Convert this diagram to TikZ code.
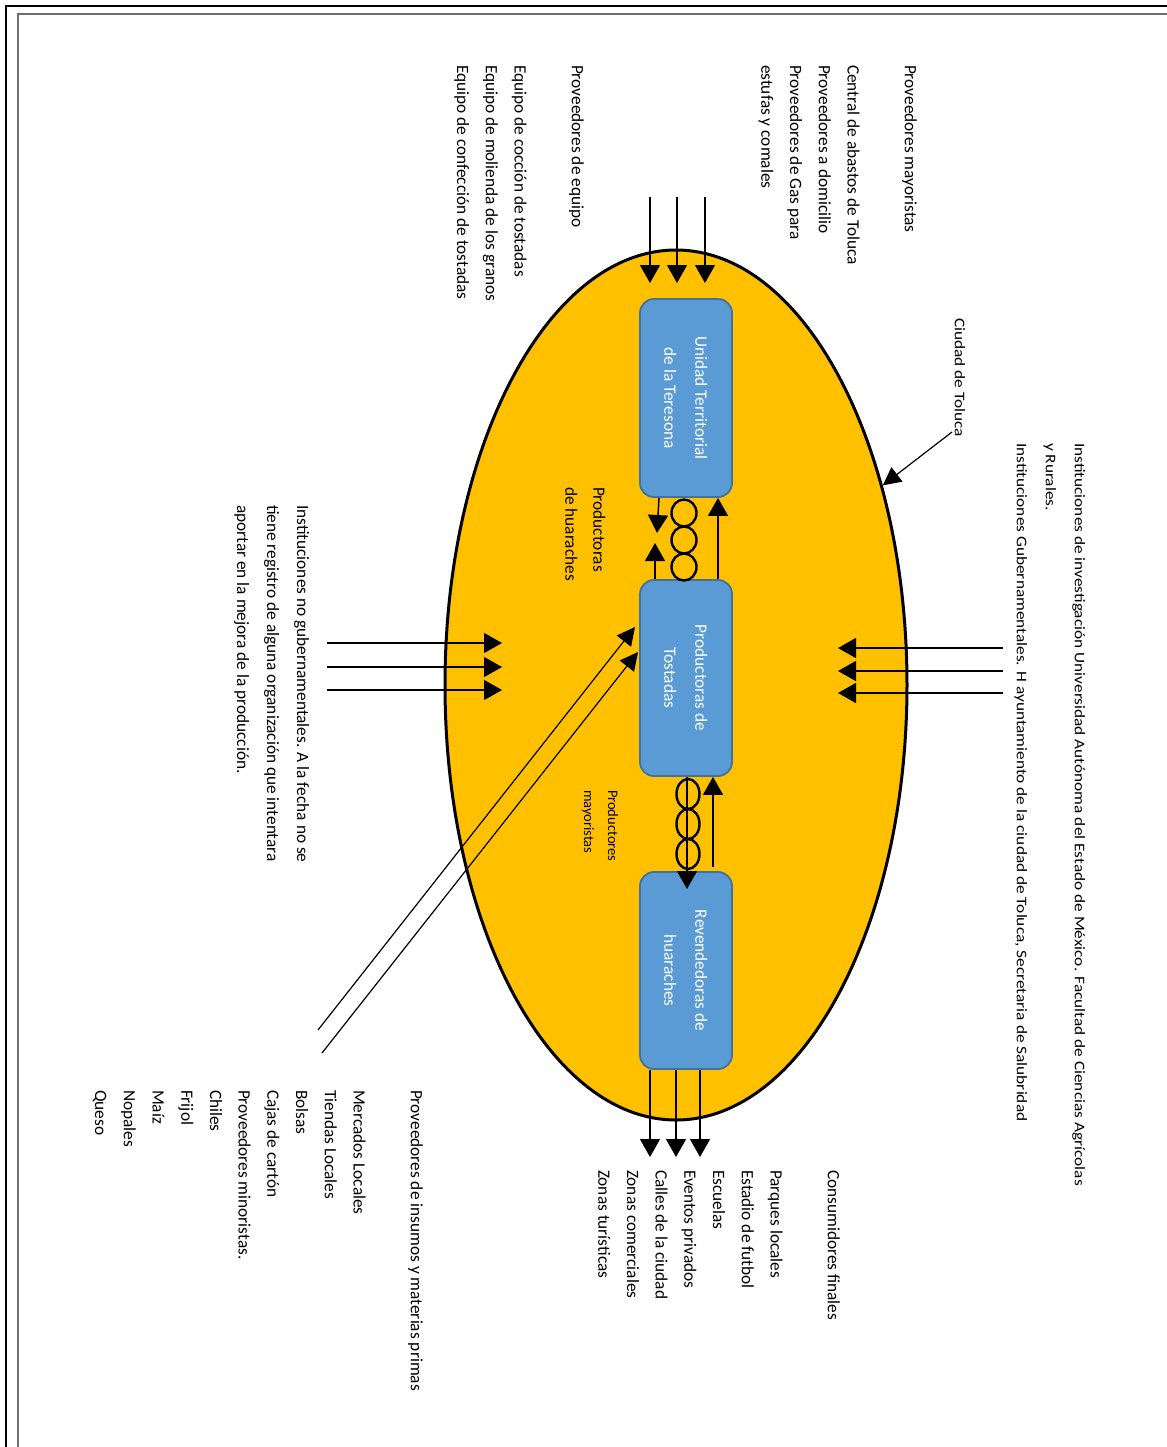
\documentclass[tikz,border=0pt]{standalone}
\usepackage{fontspec}
\setmainfont{Carlito}
\usepackage{graphicx}
\usetikzlibrary{arrows.meta,shapes.geometric}

\definecolor{citygold}{HTML}{FFC000}
\definecolor{boxblue}{HTML}{5B9BD5}
\definecolor{boxedge}{HTML}{41719C}
\definecolor{framegray}{HTML}{6E6E6E}

% text columns read top to bottom
\newcommand{\vlines}[1]{\rotatebox{-90}{\begin{tabular}{@{}l@{}}#1\end{tabular}}}
\newcommand{\vlinesnarrow}[1]{\rotatebox{-90}{\scalebox{1}[0.85]{\begin{tabular}{@{}l@{}}#1\end{tabular}}}}
\newcommand{\boxlines}[1]{\rotatebox{-90}{\begin{tabular}{@{}c@{}}#1\end{tabular}}}

\begin{document}
\begin{tikzpicture}[x=0.5pt,y=-0.5pt,
  lbl/.style={inner sep=0pt, outer sep=0pt, anchor=north east,
    font=\fontsize{8.65}{14.35}\selectfont},
  lblnarrow/.style={lbl, font=\fontsize{8.65}{17}\selectfont},
  lblsmall/.style={lbl, font=\fontsize{7.25}{12}\selectfont},
  unit/.style={draw=boxedge, fill=boxblue, line width=0.9pt, rounded corners=7pt,
    minimum width=46pt, inner sep=0pt, text=white,
    font=\fontsize{8.65}{15.5}\selectfont},
  arr/.style={line width=0.75pt, -{Triangle[length=9pt,width=10pt]}},
  arrthin/.style={line width=0.6pt, -{Triangle[length=9pt,width=9pt]}},
  link/.style={line width=1.2pt}]

\useasboundingbox (0,0) rectangle (1167,1447);

% page frame
\draw[line width=1.25pt] (6,1447) -- (6,6) -- (1167,6);
\draw[framegray, line width=1pt] (18,1447) -- (18,14) -- (1167,14);

% the city
\node[draw, ellipse, fill=citygold, line width=1.5pt, minimum width=231pt,
  minimum height=435pt, inner sep=0pt] (city) at (676,685) {};

% outside actors
\node[lbl] (mayoristas) at (925,65) {\vlines{Proveedores mayoristas\\ \\Central de abastos de Toluca\\Proveedores a domicilio\\Proveedores de Gas para\\estufas y comales}};
\node[lbl] (equipo) at (592,65) {\vlines{Proveedores de equipo\\ \\Equipo de cocción de tostadas\\Equipo de molienda de los granos\\Equipo de confección de tostadas}};
\node[lblnarrow] (toluca) at (975,318) {\vlinesnarrow{Ciudad de Toluca}};
\node[lblnarrow] (instituciones) at (1095,443) {\vlinesnarrow{Instituciones de investigación Universidad Autónoma del Estado de México. Facultad de Ciencias Agrícolas\\y Rurales.\\Instituciones Gubernamentales. H ayuntamiento de la ciudad de Toluca, Secretaria de Salubridad}};
\node[lbl, font=\fontsize{8.65}{15}\selectfont] (ong) at (318,505) {\vlines{Instituciones no gubernamentales. A la fecha no se\\tiene registro de alguna organización que intentara\\aportar en la mejora de la producción.}};
\node[lbl] (insumos) at (431,1090) {\vlines{Proveedores de insumos y materias primas\\ \\Mercados Locales\\Tiendas Locales\\Bolsas\\Cajas de cartón\\Proveedores minoristas.\\Chiles\\Frijol\\Maíz\\Nopales\\Queso}};
\node[lbl] (consumidores) at (848,1170) {\vlines{Consumidores finales\\ \\Parques locales\\Estadio de futbol\\Escuelas\\Eventos privados\\Calles de la ciudad\\Zonas comerciales\\Zonas turísticas}};

% labels inside the city
\node[lbl, font=\fontsize{8.65}{14}\selectfont] (huaraches) at (613,487) {\vlines{Productoras\\de huaraches}};
\node[lblsmall] (prodmay) at (625,790) {\vlines{Productores\\mayoristas}};

% flows crossing the city limit
\foreach \x [count=\i] in {650,677,705} {
  \coordinate (topS\i) at (\x,197);
  \coordinate (topE\i) at (\x,283);
  \draw[arr] (topS\i) -- (topE\i);
}
\foreach \y [count=\i] in {648,671,693} {
  \coordinate (rgtS\i) at (1003,\y);
  \coordinate (rgtE\i) at (838,\y);
  \draw[arr] (rgtS\i) -- (rgtE\i);
}
\foreach \y [count=\i] in {643,667,690} {
  \coordinate (lftS\i) at (327,\y);
  \coordinate (lftE\i) at (502,\y);
  \draw[arr] (lftS\i) -- (lftE\i);
}
\coordinate (diagS1) at (318,1030);
\coordinate (diagE1) at (635,627);
\coordinate (diagS2) at (322,1053);
\coordinate (diagE2) at (638,652);
\draw[arrthin] (diagS1) -- (diagE1);
\draw[arrthin] (diagS2) -- (diagE2);

\coordinate (tolucaS) at (952,432);
\draw[arrthin] (tolucaS) -- (city.44);

% production chain
\node[unit, minimum height=99pt] (unidad) at (686,398) {\boxlines{Unidad Territorial\\de la Teresona}};
\node[unit, minimum height=98pt] (productoras) at (686,678) {\boxlines{Productoras de\\Tostadas}};
\node[unit, minimum height=98.5pt] (revendedoras) at (686,970.5) {\boxlines{Revendedoras de\\huaraches}};

\foreach \x [count=\i] in {650,676,700} {
  \coordinate (botE\i) at (\x,1157);
  \draw[arr] (revendedoras.south -| botE\i) -- (botE\i);
}

% links between Unidad Territorial and Productoras
\draw[link] (684,513) ellipse [x radius=6.25pt, y radius=6.75pt];
\draw[link] (684,540) ellipse [x radius=6.25pt, y radius=6.75pt];
\draw[link] (684,567) ellipse [x radius=6.25pt, y radius=6.75pt];
\draw[arr] ([xshift=16pt]productoras.north) -- ([xshift=16pt]unidad.south);
\coordinate (dnE1) at (657,533);
\draw[arr] ([xshift=-13.5pt]unidad.south) -- (dnE1);
\coordinate (upE1) at (655,543);
\draw[arr] ([xshift=-15.5pt]productoras.north) -- (upE1);

% links between Productoras and Revendedoras
\draw[link] (688,794) ellipse [x radius=5.75pt, y radius=7.5pt];
\draw[link] (688,824) ellipse [x radius=5.75pt, y radius=7.5pt];
\draw[link] (688,854) ellipse [x radius=5.75pt, y radius=7.5pt];
\coordinate (upS2) at (713,867);
\draw[arr] (upS2) -- ([xshift=13.5pt]productoras.south);
\coordinate (dnE2) at (687,889);
\draw[arr] ([xshift=0.5pt]productoras.south) -- (dnE2);

\end{tikzpicture}
\end{document}
